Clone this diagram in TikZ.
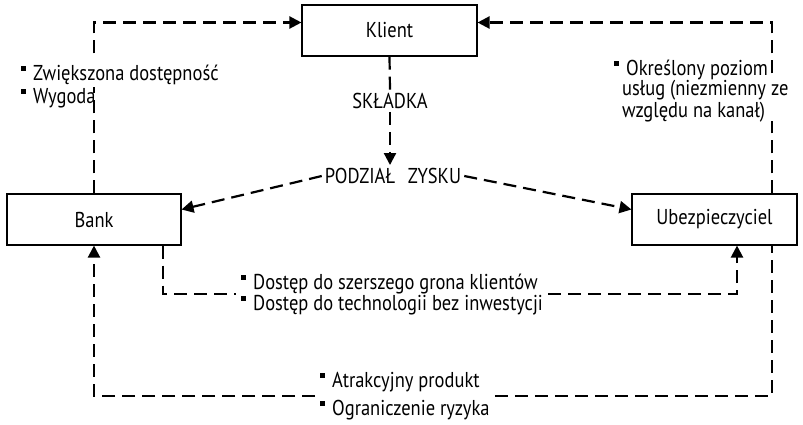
\documentclass[tikz,border=0pt]{standalone}
\usepackage{fontspec}
\setmainfont[FakeStretch=0.86]{PT Sans}
\usetikzlibrary{arrows.meta,calc}
\pgfdeclarelayer{bg}
\pgfdeclarelayer{mid}
\pgfsetlayers{bg,mid,main}
\newcommand{\bul}{\rule[9.5pt]{4.5pt}{4.5pt}\hspace{7.5pt}}
\begin{document}
\begin{tikzpicture}[x=1pt,y=1pt,
  box/.style={draw,line width=1.1pt,fill=white,minimum height=51pt,inner sep=0pt,font=\fontsize{21.5}{24}\selectfont},
  conn/.style={line width=2.2pt,dash pattern=on 13pt off 7pt},
  tip/.style={-{Triangle[length=12pt,width=12pt]}},
  lbl/.style={inner sep=5pt,align=left,font=\fontsize{21.5}{18.5}\selectfont},
  caplbl/.style={inner sep=3pt,font=\fontsize{21.5}{24}\selectfont}
]
\useasboundingbox (0,0) rectangle (803,-424);
\node[box,minimum width=175pt] (klient) at (389.5,-30.5) {Klient};
\node[box,minimum width=174pt] (bank) at (94,-219.5) {Bank};
\node[box,minimum width=165pt] (ubez) at (714.5,-219.5) {Ubezpieczyciel};
\node[caplbl] (skl) at (390,-101) {SKŁADKA};
\node[caplbl] (pz) at (393,-176) {PODZIAŁ\hspace{0.6em}ZYSKU};
\node[lbl,inner sep=1pt,anchor=base west,font=\fontsize{21.5}{23}\selectfont] (wyg) at (20,-103) {\bul Zwiększona dostępność\\\bul Wygoda};
\node[lbl,inner sep=1pt,anchor=base west] (okr) at (613,-117) {\bul Określony poziom\\\hspace*{8pt}usług (niezmienny ze\\\hspace*{8pt}względu na kanał)};
\node[lbl,anchor=base west] (dost) at (236,-310) {\bul Dostęp do szerszego grona klientów\\\bul Dostęp do technologii bez inwestycji};
\node[lbl,anchor=base west,font=\fontsize{21.5}{28}\selectfont] (atr) at (315,-415) {\bul Atrakcyjny produkt\\\bul Ograniczenie ryzyka};
\begin{pgfonlayer}{mid}
\fill[white] (86,-58) rectangle (102,-87);
\fill[white] (764,-76) rectangle (780,-121);
\end{pgfonlayer}
\begin{pgfonlayer}{bg}
\draw[conn,tip] (bank.north) |- ([yshift=8pt]klient.west);
\draw[conn,tip] ([xshift=57.5pt]ubez.north) |- ([yshift=8pt]klient.east);
\draw[conn] (klient.south) -- (skl.north);
\draw[conn,tip] (skl.south) -- (skl.south |- pz.north);
\draw[conn,tip] (pz.west) -- ([yshift=10pt]bank.east);
\draw[conn,tip] (pz.east) -- ([yshift=10pt]ubez.west);
\draw[conn] ([xshift=69pt]bank.south) |- (dost.west);
\draw[conn,tip] (dost.east) -| ([xshift=22.5pt]ubez.south);
\draw[conn,tip] (atr.west) -| (bank.south);
\draw[conn] (atr.east) -| ([xshift=57.5pt]ubez.south);
\end{pgfonlayer}
\end{tikzpicture}
\end{document}
